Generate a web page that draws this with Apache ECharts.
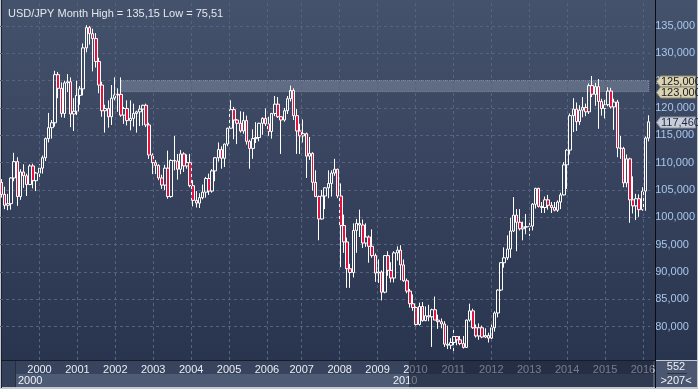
<!DOCTYPE html>
<html><head><meta charset="utf-8">
<script src="https://cdn.jsdelivr.net/npm/echarts@6/dist/echarts.min.js"></script>
<style>html,body{margin:0;padding:0;background:#c3c8d0;overflow:hidden}#c{width:698px;height:389px}</style>
</head><body><div id="c"></div>
<script>
// ---------- DATA ----------
const titleText = 'USD/JPY Month High = 135,15 Low = 75,51';
const firstMonth = [1999, 10];           // first bar: Oct 1999, monthly bars
// monthly bars [open, high, low, close]
const ohlc = [
 [106.4,107.0,103.6,104.2],[104.2,105.6,101.5,102.2],[102.2,104.3,101.3,102.5],
 // 2000
 [102.5,107.3,101.4,107.2],[107.2,111.8,106.6,110.2],[110.2,111.0,102.1,103.8],[103.8,108.8,103.2,108.3],
 [108.3,109.7,105.4,107.6],[107.6,108.0,103.9,106.0],[106.0,109.7,105.9,109.4],[109.4,109.8,105.3,106.7],
 [106.7,108.3,104.8,108.1],[108.1,109.7,107.2,109.0],[109.0,111.3,108.0,110.9],[110.9,114.6,110.3,114.4],
 // 2001
 [114.4,119.1,113.7,116.4],[116.4,117.8,114.4,117.3],[117.3,126.8,116.6,126.1],[126.1,126.6,121.8,123.6],
 [123.6,124.7,118.3,119.0],[119.0,125.0,118.2,124.6],[124.6,126.2,122.9,124.8],[124.8,125.6,116.5,118.9],
 [118.9,121.8,115.8,119.4],[119.4,125.0,118.7,122.3],[122.3,124.0,120.6,123.5],[123.5,131.8,122.3,131.0],
 // 2002
 [131.0,135.15,130.2,134.7],[134.7,135.0,131.6,133.6],[133.6,134.5,126.7,132.7],[132.7,133.7,127.4,128.5],
 [128.5,129.2,122.7,124.2],[124.2,124.8,118.4,119.5],[119.5,120.6,115.5,119.9],[119.9,121.4,116.4,118.4],
 [118.4,124.2,116.9,121.8],[121.8,125.6,121.4,122.4],[122.4,123.6,119.3,122.5],[122.5,125.6,118.4,118.7],
 // 2003
 [118.7,120.2,117.1,119.9],[119.9,121.4,116.8,117.7],[117.7,121.4,115.9,118.1],[118.1,120.8,116.6,119.0],
 [119.0,119.5,115.5,119.3],[119.3,120.5,116.7,119.8],[119.8,120.6,116.8,120.5],[120.5,120.8,116.5,116.9],
 [116.9,117.3,110.7,111.4],[111.4,111.7,107.9,110.0],[110.0,110.5,107.9,109.5],[109.5,109.7,106.8,107.2],
 // 2004
 [107.2,107.8,105.2,105.9],[105.9,109.6,105.0,109.0],[109.0,112.2,103.4,103.8],[103.8,110.6,103.6,110.4],
 [110.4,114.9,108.6,110.3],[110.3,111.6,106.9,108.8],[108.8,112.3,107.9,111.6],[111.6,111.9,108.3,109.4],
 [109.4,111.5,108.9,110.0],[110.0,111.6,105.5,105.8],[105.8,106.8,102.0,103.1],[103.1,104.8,101.8,102.6],
 // 2005
 [102.6,104.4,101.7,103.6],[103.6,106.0,103.3,104.6],[104.6,107.4,103.6,107.1],[107.1,108.0,104.1,104.8],
 [104.8,108.8,104.5,108.5],[108.5,111.0,106.6,110.9],[110.9,113.7,110.2,112.4],[112.4,113.0,108.9,110.8],
 [110.8,113.5,109.2,113.4],[113.4,116.4,113.0,116.3],[116.3,121.4,116.2,119.7],[119.7,120.2,114.3,117.8],
 // 2006
 [117.8,118.0,113.4,117.2],[117.2,119.4,115.5,115.8],[115.8,119.3,115.3,117.7],[117.7,118.6,113.3,113.9],
 [113.9,114.2,108.9,112.6],[112.6,116.1,110.7,114.4],[114.4,117.4,113.6,114.6],[114.6,117.3,113.9,117.2],
 [117.2,118.3,115.1,118.1],[118.1,119.9,116.7,117.1],[117.1,118.4,114.9,115.7],[115.7,119.1,114.4,119.0],
 // 2007
 [119.0,122.2,118.5,120.7],[120.7,122.0,118.2,118.4],[118.4,118.5,111.6,117.8],[117.8,120.0,117.5,119.5],
 [119.5,122.2,118.9,121.7],[121.7,124.1,121.2,123.2],[123.2,123.6,117.8,118.6],[118.6,119.8,111.6,115.8],
 [115.8,117.1,111.6,114.9],[114.9,117.9,113.7,115.3],[115.3,115.5,107.2,111.2],[111.2,114.7,110.5,111.7],
 // 2008
 [111.7,111.9,104.9,106.4],[106.4,108.6,103.7,103.8],[103.8,104.0,95.8,99.7],[99.7,105.0,99.6,103.9],
 [103.9,105.5,101.5,105.4],[105.4,108.6,103.5,106.2],[106.2,108.6,103.8,108.1],[108.1,110.7,107.6,108.8],
 [108.8,108.9,103.5,103.9],[103.9,106.2,90.9,98.5],[98.5,100.5,93.5,95.5],[95.5,96.3,87.1,90.6],
 // 2009
 [90.6,91.5,87.1,89.9],[89.9,98.9,89.0,97.6],[97.6,99.7,93.5,98.9],[98.9,101.4,96.4,98.6],
 [98.6,99.6,94.4,95.3],[95.3,98.9,94.6,96.4],[96.4,96.7,91.7,94.7],[94.7,97.8,92.6,93.0],
 [93.0,93.4,88.2,89.8],[89.8,92.3,88.0,90.0],[90.0,90.3,84.8,86.3],[86.3,93.1,86.1,93.0],
 // 2010
 [93.0,93.8,89.3,90.3],[90.3,91.8,88.1,88.9],[88.9,93.8,88.1,93.5],[93.5,94.7,92.1,94.0],
 [94.0,94.9,88.5,91.3],[91.3,92.3,88.2,88.4],[88.4,88.8,86.1,86.5],[86.5,86.9,83.5,84.2],
 [84.2,85.9,82.9,83.5],[83.5,83.7,80.2,80.4],[80.4,84.4,80.2,83.7],[83.7,84.5,80.9,81.1],
 // 2011
 [81.1,83.7,81.0,82.0],[82.0,84.0,81.0,81.8],[81.8,83.3,76.3,83.1],[83.1,85.5,81.2,81.2],
 [81.2,82.2,79.6,80.9],[80.9,81.5,79.7,80.5],[80.5,81.0,76.3,76.8],[76.8,80.2,75.9,76.6],
 [76.6,77.9,75.9,77.1],[77.1,79.5,75.51,78.2],[78.2,78.3,76.6,77.6],[77.6,78.3,76.6,76.9],
 // 2012
 [76.9,78.3,76.0,76.2],[76.2,81.3,76.1,81.2],[81.2,84.2,80.9,82.9],[82.9,83.3,79.6,79.8],
 [79.8,80.4,78.0,78.3],[78.3,80.6,77.6,79.8],[79.8,80.2,77.9,78.1],[78.1,79.7,77.9,78.4],
 [78.4,78.9,77.1,77.9],[77.9,80.4,77.7,79.8],[79.8,82.8,79.1,82.5],[82.5,86.8,81.7,86.7],
 // 2013
 [86.7,91.8,86.5,91.7],[91.7,94.5,90.8,92.6],[92.6,96.7,92.2,94.2],[94.2,99.9,92.6,97.5],
 [97.5,103.7,97.3,100.4],[100.4,101.5,93.8,99.1],[99.1,101.5,97.6,97.9],[97.9,99.2,95.8,98.2],
 [98.2,100.6,96.9,98.3],[98.3,99.0,96.6,98.4],[98.4,102.6,97.6,102.4],[102.4,105.4,101.6,105.3],
 // 2014
 [105.3,105.4,101.8,102.0],[102.0,102.8,100.8,101.8],[101.8,103.8,100.8,103.2],[103.2,104.1,101.4,102.2],
 [102.2,102.8,100.8,101.8],[101.8,102.8,101.1,101.3],[101.3,103.1,101.0,102.8],[102.8,104.5,101.5,104.1],
 [104.1,110.1,104.0,109.6],[109.6,112.5,105.2,112.3],[112.3,119.0,111.5,118.6],[118.6,121.8,115.6,119.8],
 // 2015
 [119.8,121.0,115.8,117.5],[117.5,120.5,116.9,119.6],[119.6,122.0,118.3,120.1],[120.1,120.8,118.5,119.3],
 [119.3,124.5,118.9,124.1],[124.1,125.86,122.0,122.5],[122.5,124.6,120.4,123.9],[123.9,125.3,116.2,121.2],
 [121.2,121.7,118.6,119.9],[119.9,121.5,118.1,120.6],[120.6,123.8,120.3,123.1],[123.1,123.7,119.9,120.2],
 // 2016
 [120.2,121.7,116.0,121.1],[121.1,121.5,111.0,112.7],[112.7,114.9,110.7,112.6],[112.6,112.9,105.5,106.3],
 [106.3,111.5,105.5,110.7],[110.7,110.9,99.0,103.2],[103.2,107.5,100.7,102.1],[102.1,104.3,99.5,103.4],
 [103.4,104.2,100.1,101.4],[101.4,105.5,101.2,104.8],[104.8,114.8,101.2,114.5],[114.5,118.66,113.9,117.46]
];
const yearLabels = ['2000','2001','2002','2003','2004','2005','2006','2007','2008','2009','2010','2011','2012','2013','2014','2015','2016'];
const levelLines = [125, 123];
const levelStartMonth = '2002-12';
const lastPrice = 117.46;
const navLabels = ['2000', '2010'];
const footerTexts = ['552', '>207<'];

// ---------- BUILD ----------
const months = [];
for (let i = 0; i < ohlc.length; i++) {
  const m0 = firstMonth[1] - 1 + i;
  const y = firstMonth[0] + Math.floor(m0 / 12);
  const m = (m0 % 12) + 1;
  months.push(y + '-' + (m < 10 ? '0' + m : m));
}
const candleData = ohlc.map(r => [r[0], r[3], r[2], r[1]]);
// label placement (category index for each year label)
const yearIdx = yearLabels.map((_, k) => Math.round(12.16 + k * 11.9));

const FONT = '"Liberation Sans Narrow","Arial Narrow","Liberation Sans",Arial,sans-serif';
const fmt = v => { const s = v.toFixed(3).split('.'); return s[0] + ',' + s[1]; };
const grad = (a, b) => ({type: 'linear', x: 0, y: 0, x2: 0, y2: 1, colorStops: [{offset: 0, color: a}, {offset: 1, color: b}]});
const GRID_LINE = '#56627e';

const chart = echarts.init(document.getElementById('c'));
const baseGraphic = [
  {type: 'rect', z: -10, shape: {x: 1, y: 0, width: 654, height: 360}, style: {fill: grad('#45526c', '#29344f')}},
  {type: 'rect', z: -10, shape: {x: 656, y: 0, width: 41, height: 360}, style: {fill: grad('#45526c', '#29344f')}},
  {type: 'rect', z: -9, shape: {x: 1, y: 0, width: 1, height: 388}, style: {fill: '#1b2130'}},
  {type: 'rect', z: -9, shape: {x: 1, y: 360, width: 654, height: 1}, style: {fill: '#161b28'}},
  {type: 'rect', z: -9, shape: {x: 2, y: 361, width: 13, height: 26}, style: {fill: '#34405a'}},
  {type: 'rect', z: -9, shape: {x: 15, y: 361, width: 640, height: 13}, style: {fill: '#38445e'}},
  {type: 'rect', z: -9, shape: {x: 15, y: 374, width: 640, height: 13}, style: {fill: '#4e5b75'}},
  {type: 'rect', z: -8, shape: {x: 15, y: 361, width: 1, height: 26}, style: {fill: '#262e42'}},
  {type: 'text', z: 5, x: 18, y: 381, style: {text: navLabels[0], fill: '#eef1f6', font: '11px ' + FONT, verticalAlign: 'middle'}},
  {type: 'text', z: 5, x: 393, y: 381, style: {text: navLabels[1], fill: '#eef1f6', font: '11px ' + FONT, verticalAlign: 'middle'}},
  {type: 'rect', z: 50, shape: {x: 409, y: 361, width: 244, height: 26}, style: {fill: 'rgba(22,30,50,0.55)'}},
  {type: 'rect', z: -9, shape: {x: 656, y: 361, width: 41, height: 26}, style: {fill: '#4b5770'}},
  {type: 'text', z: 5, x: 676, y: 367, style: {text: footerTexts[0], fill: '#eef1f6', font: '11px ' + FONT, align: 'center', verticalAlign: 'middle'}},
  {type: 'rect', z: 5, shape: {x: 667, y: 373, width: 20, height: 1}, style: {fill: '#2b3244'}},
  {type: 'text', z: 5, x: 676, y: 381, style: {text: footerTexts[1], fill: '#eef1f6', font: '11px ' + FONT, align: 'center', verticalAlign: 'middle'}},
  {type: 'rect', z: 60, shape: {x: 655, y: 0, width: 1, height: 388}, style: {fill: '#0a0c12'}}
];

const option = {
  animation: false,
  title: {text: titleText, left: 3, top: 3, textStyle: {color: '#e3e7ee', fontSize: 11, fontWeight: 'normal', fontFamily: FONT}},
  grid: [
    {left: 0, top: 0, width: 654, height: 354},
    {left: 0, top: 0, width: 654, height: 360}
  ],
  xAxis: [
    {type: 'category', gridIndex: 0, data: months, boundaryGap: true, show: false},
    {type: 'category', gridIndex: 1, data: months, boundaryGap: true,
     axisLine: {show: false}, axisTick: {show: false}, splitLine: {show: false},
     axisLabel: {margin: 4, fontSize: 11, fontFamily: FONT, color: '#e8ecf3',
       interval: (i) => yearIdx.indexOf(i) >= 0,
       formatter: (v, i) => { const k = yearIdx.indexOf(i); return k >= 0 ? yearLabels[k] : ''; }}}
  ],
  yAxis: [
    {type: 'value', gridIndex: 0, position: 'right', min: 75, max: 135 + 26 / 5.467, interval: 5,
     axisLine: {show: false}, axisTick: {show: false},
     axisLabel: {margin: 5, fontSize: 11, fontFamily: FONT, color: '#a7c7ec', showMinLabel: false, showMaxLabel: false,
       formatter: v => v + ',000'},
     splitLine: {show: true, showMinLine: false, showMaxLine: false, lineStyle: {color: GRID_LINE, type: [3, 3], width: 1}}},
    {type: 'value', gridIndex: 1, min: 0, max: 1, show: false}
  ],
  series: [
    {type: 'line', xAxisIndex: 1, yAxisIndex: 1, data: [], silent: true,
     markLine: {silent: true, symbol: ['none', 'none'], label: {show: false},
       lineStyle: {color: GRID_LINE, type: [3, 3], width: 1},
       data: yearIdx.map(i => ({xAxis: months[i]}))}},
    {type: 'candlestick', xAxisIndex: 0, yAxisIndex: 0, data: candleData, barWidth: 3, z: 3,
     itemStyle: {color: 'rgba(0,0,0,0)', color0: '#e3123f', borderColor: '#ffffff', borderColor0: '#ffffff', borderWidth: 1},
     markArea: {silent: true, itemStyle: {color: 'rgba(175,185,205,0.3)', borderColor: 'rgba(200,206,218,0.5)', borderWidth: 1, borderType: 'dotted'},
       data: [[{xAxis: levelStartMonth, yAxis: levelLines[0]}, {xAxis: months[months.length - 1], yAxis: levelLines[1]}]]}}
  ],
  graphic: baseGraphic
};
chart.setOption(option);

function tag(value, text, fill, stroke, color) {
  const yc = Math.round(chart.convertToPixel({yAxisIndex: 0}, value)) + 0.5;
  return [
    {type: 'polygon', z: 70, shape: {points: [[656.5, yc], [660.5, yc - 5.5], [695.5, yc - 5.5], [695.5, yc + 5.5], [660.5, yc + 5.5]]},
     style: {fill: fill, stroke: stroke, lineWidth: 1}},
    {type: 'text', z: 71, x: 661, y: yc + 0.5, style: {text: text, fill: color, font: '11px ' + FONT, verticalAlign: 'middle'}}
  ];
}
const tags = [].concat(
  tag(levelLines[0], fmt(levelLines[0]), '#dad3b4', '#8f8a72', '#1b1b1b'),
  tag(levelLines[1], fmt(levelLines[1]), '#dad3b4', '#8f8a72', '#1b1b1b'),
  tag(lastPrice, fmt(lastPrice), '#c9ced6', '#8a909c', '#1c2b4c')
);
chart.setOption({graphic: baseGraphic.concat(tags)});
</script></body></html>
